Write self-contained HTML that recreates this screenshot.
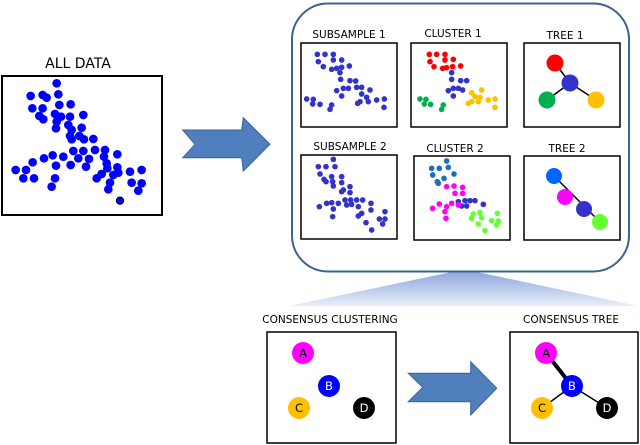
<!DOCTYPE html>
<html><head><meta charset="utf-8"><style>html,body{margin:0;padding:0;background:#fff}svg{display:block}text{font-family:"DejaVu Sans","Liberation Sans",sans-serif}</style></head><body>
<svg width="640" height="445" viewBox="0 0 640 445" xmlns="http://www.w3.org/2000/svg">
<defs><linearGradient id="g" x1="0" y1="0" x2="0" y2="1"><stop offset="0" stop-color="#8ea8dc"/><stop offset="1" stop-color="#e8eef9"/></linearGradient></defs>
<rect width="640" height="445" fill="#fff"/>
<polygon points="452,272 477,272 638,306 289,306" fill="url(#g)"/>
<rect x="292" y="3.5" width="337" height="268" rx="36" fill="#fff" stroke="#3d6190" stroke-width="2"/>
<text x="78" y="68" font-size="14" text-anchor="middle">ALL DATA</text>
<rect x="2" y="76" width="160" height="139" fill="#fff" stroke="#000" stroke-width="2"/>
<g transform="translate(0,50) scale(0.3333)" fill="#0000ff">
<circle cx="170" cy="100" r="13"/><circle cx="92" cy="138" r="13"/><circle cx="128" cy="135" r="13"/><circle cx="140" cy="143" r="13"/><circle cx="175" cy="133" r="13"/><circle cx="97" cy="175" r="13"/><circle cx="128" cy="175" r="13"/><circle cx="178" cy="165" r="13"/><circle cx="212" cy="163" r="13"/><circle cx="118" cy="198" r="13"/><circle cx="130" cy="208" r="13"/><circle cx="165" cy="192" r="13"/><circle cx="183" cy="200" r="13"/><circle cx="210" cy="200" r="13"/><circle cx="250" cy="195" r="13"/><circle cx="170" cy="215" r="13"/><circle cx="168" cy="235" r="13"/><circle cx="205" cy="225" r="13"/><circle cx="215" cy="240" r="13"/><circle cx="245" cy="233" r="13"/><circle cx="210" cy="258" r="13"/><circle cx="238" cy="258" r="13"/><circle cx="215" cy="268" r="13"/><circle cx="252" cy="268" r="13"/><circle cx="280" cy="267" r="13"/><circle cx="285" cy="300" r="13"/><circle cx="315" cy="300" r="13"/><circle cx="220" cy="303" r="13"/><circle cx="250" cy="303" r="13"/><circle cx="235" cy="325" r="13"/><circle cx="267" cy="327" r="13"/><circle cx="190" cy="320" r="13"/><circle cx="158" cy="316" r="13"/><circle cx="132" cy="325" r="13"/><circle cx="98" cy="337" r="13"/><circle cx="47" cy="360" r="13"/><circle cx="78" cy="360" r="13"/><circle cx="70" cy="385" r="13"/><circle cx="102" cy="385" r="13"/><circle cx="168" cy="347" r="13"/><circle cx="212" cy="345" r="13"/><circle cx="258" cy="350" r="13"/><circle cx="312" cy="320" r="13"/><circle cx="320" cy="340" r="13"/><circle cx="322" cy="355" r="13"/><circle cx="352" cy="313" r="13"/><circle cx="352" cy="352" r="13"/><circle cx="355" cy="368" r="13"/><circle cx="340" cy="375" r="13"/><circle cx="305" cy="372" r="13"/><circle cx="290" cy="385" r="13"/><circle cx="330" cy="398" r="13"/><circle cx="325" cy="418" r="13"/><circle cx="165" cy="385" r="13"/><circle cx="155" cy="410" r="13"/><circle cx="390" cy="365" r="13"/><circle cx="425" cy="360" r="13"/><circle cx="395" cy="398" r="13"/><circle cx="425" cy="400" r="13"/><circle cx="415" cy="422" r="13"/>
<circle cx="360" cy="452" r="11" stroke="#000" stroke-width="3"/>
</g>
<polygon points="182.7,130 241.7,130 243.3,117.7 270,144.3 243.3,171 241.7,157.7 182.7,157.7 195,144.3" fill="#4f7fbd" stroke="#3a629a" stroke-width="1"/>
<polygon points="408.3,373.3 470.7,373.3 470.7,361.7 496.7,388.3 470.7,415 470.7,401.7 408.3,401.7 422.7,387.3" fill="#4f7fbd" stroke="#3a629a" stroke-width="1"/>
<g font-size="10.5" text-anchor="middle">
<text x="349" y="38">SUBSAMPLE 1</text><text x="453" y="37">CLUSTER 1</text><text x="565" y="39">TREE 1</text>
<text x="350" y="150">SUBSAMPLE 2</text><text x="455" y="152">CLUSTER 2</text><text x="567" y="152">TREE 2</text>
<text x="330" y="323">CONSENSUS CLUSTERING</text><text x="571" y="323">CONSENSUS TREE</text>
</g>
<g fill="#fff" stroke="#000" stroke-width="1.5">
<rect x="301" y="43" width="96" height="84"/><rect x="411" y="43" width="96" height="84"/><rect x="524" y="43" width="96" height="84"/>
<rect x="301" y="155" width="96" height="84"/><rect x="414" y="156" width="96" height="84"/><rect x="524" y="156" width="96" height="84"/>
<rect x="267" y="332" width="129" height="111"/><rect x="510" y="332" width="128" height="111"/>
</g>
<g transform="translate(290,20) scale(0.3333)">
<g fill="#3333cc">
<circle cx="82" cy="103" r="8.5"/><circle cx="105" cy="103" r="8.5"/><circle cx="130" cy="103" r="8.5"/><circle cx="85" cy="125" r="8.5"/><circle cx="100" cy="140" r="8.5"/><circle cx="130" cy="120" r="8.5"/><circle cx="155" cy="120" r="8.5"/><circle cx="125" cy="148" r="8.5"/><circle cx="140" cy="145" r="8.5"/><circle cx="155" cy="142" r="8.5"/><circle cx="178" cy="138" r="8.5"/><circle cx="150" cy="158" r="8.5"/><circle cx="152" cy="178" r="8.5"/><circle cx="180" cy="182" r="8.5"/><circle cx="197" cy="183" r="8.5"/><circle cx="140" cy="212" r="8.5"/><circle cx="160" cy="205" r="8.5"/><circle cx="175" cy="205" r="8.5"/><circle cx="155" cy="228" r="8.5"/><circle cx="200" cy="202" r="8.5"/><circle cx="215" cy="202" r="8.5"/><circle cx="240" cy="210" r="8.5"/><circle cx="215" cy="222" r="8.5"/><circle cx="230" cy="232" r="8.5"/><circle cx="210" cy="245" r="8.5"/><circle cx="203" cy="250" r="8.5"/><circle cx="235" cy="245" r="8.5"/><circle cx="50" cy="237" r="8.5"/><circle cx="70" cy="238" r="8.5"/><circle cx="68" cy="252" r="8.5"/><circle cx="90" cy="253" r="8.5"/><circle cx="125" cy="255" r="8.5"/><circle cx="120" cy="268" r="8.5"/><circle cx="260" cy="240" r="8.5"/><circle cx="283" cy="237" r="8.5"/><circle cx="282" cy="262" r="8.5"/>
<circle cx="485" cy="158" r="8.5"/><circle cx="485" cy="178" r="8.5"/><circle cx="512" cy="182" r="8.5"/><circle cx="530" cy="182" r="8.5"/><circle cx="475" cy="212" r="8.5"/><circle cx="490" cy="205" r="8.5"/><circle cx="505" cy="205" r="8.5"/><circle cx="490" cy="228" r="8.5"/><circle cx="518" cy="210" r="8.5"/>
<circle cx="130" cy="418" r="8.5"/><circle cx="85" cy="440" r="8.5"/><circle cx="108" cy="440" r="8.5"/><circle cx="135" cy="440" r="8.5"/><circle cx="90" cy="462" r="8.5"/><circle cx="102" cy="478" r="8.5"/><circle cx="125" cy="470" r="8.5"/><circle cx="155" cy="470" r="8.5"/><circle cx="108" cy="485" r="8.5"/><circle cx="128" cy="485" r="8.5"/><circle cx="130" cy="498" r="8.5"/><circle cx="155" cy="488" r="8.5"/><circle cx="160" cy="510" r="8.5"/><circle cx="180" cy="500" r="8.5"/><circle cx="155" cy="515" r="8.5"/><circle cx="180" cy="518" r="8.5"/><circle cx="88" cy="560" r="8.5"/><circle cx="110" cy="550" r="8.5"/><circle cx="125" cy="548" r="8.5"/><circle cx="145" cy="550" r="8.5"/><circle cx="130" cy="567" r="8.5"/><circle cx="165" cy="540" r="8.5"/><circle cx="182" cy="540" r="8.5"/><circle cx="200" cy="540" r="8.5"/><circle cx="218" cy="540" r="8.5"/><circle cx="170" cy="555" r="8.5"/><circle cx="185" cy="553" r="8.5"/><circle cx="205" cy="560" r="8.5"/><circle cx="243" cy="550" r="8.5"/><circle cx="243" cy="570" r="8.5"/><circle cx="215" cy="580" r="8.5"/><circle cx="205" cy="588" r="8.5"/><circle cx="228" cy="608" r="8.5"/><circle cx="285" cy="575" r="8.5"/><circle cx="268" cy="597" r="8.5"/><circle cx="285" cy="597" r="8.5"/><circle cx="278" cy="612" r="8.5"/><circle cx="128" cy="590" r="8.5"/><circle cx="245" cy="630" r="8.5"/>
<circle cx="505" cy="545" r="8.5"/><circle cx="525" cy="542" r="8.5"/><circle cx="540" cy="542" r="8.5"/><circle cx="555" cy="542" r="8.5"/><circle cx="515" cy="558" r="8.5"/><circle cx="530" cy="558" r="8.5"/><circle cx="580" cy="553" r="8.5"/>
</g>
<g fill="#ff0000"><circle cx="418" cy="103" r="8.5"/><circle cx="440" cy="103" r="8.5"/><circle cx="465" cy="103" r="8.5"/><circle cx="420" cy="125" r="8.5"/><circle cx="432" cy="140" r="8.5"/><circle cx="465" cy="120" r="8.5"/><circle cx="490" cy="118" r="8.5"/><circle cx="458" cy="145" r="8.5"/><circle cx="470" cy="143" r="8.5"/><circle cx="488" cy="140" r="8.5"/><circle cx="512" cy="138" r="8.5"/></g>
<g fill="#ffc000"><circle cx="545" cy="218" r="8.5"/><circle cx="575" cy="210" r="8.5"/><circle cx="555" cy="230" r="8.5"/><circle cx="570" cy="232" r="8.5"/><circle cx="545" cy="245" r="8.5"/><circle cx="535" cy="250" r="8.5"/><circle cx="565" cy="245" r="8.5"/><circle cx="595" cy="240" r="8.5"/><circle cx="615" cy="237" r="8.5"/><circle cx="615" cy="262" r="8.5"/></g>
<g fill="#00b050"><circle cx="390" cy="237" r="8.5"/><circle cx="408" cy="238" r="8.5"/><circle cx="403" cy="252" r="8.5"/><circle cx="422" cy="253" r="8.5"/><circle cx="460" cy="255" r="8.5"/><circle cx="455" cy="268" r="8.5"/></g>
<g fill="#1f6fbf"><circle cx="470" cy="423" r="8.5"/><circle cx="425" cy="445" r="8.5"/><circle cx="448" cy="445" r="8.5"/><circle cx="475" cy="442" r="8.5"/><circle cx="428" cy="465" r="8.5"/><circle cx="442" cy="485" r="8.5"/><circle cx="462" cy="475" r="8.5"/><circle cx="492" cy="462" r="8.5"/><circle cx="445" cy="490" r="8.5"/></g>
<g fill="#ff00ff"><circle cx="470" cy="500" r="8.5"/><circle cx="492" cy="498" r="8.5"/><circle cx="518" cy="502" r="8.5"/><circle cx="495" cy="520" r="8.5"/><circle cx="518" cy="520" r="8.5"/><circle cx="428" cy="565" r="8.5"/><circle cx="448" cy="552" r="8.5"/><circle cx="470" cy="560" r="8.5"/><circle cx="485" cy="550" r="8.5"/><circle cx="505" cy="555" r="8.5"/><circle cx="465" cy="575" r="8.5"/><circle cx="468" cy="595" r="8.5"/></g>
<g fill="#66ff33"><circle cx="550" cy="582" r="8.5"/><circle cx="570" cy="578" r="8.5"/><circle cx="545" cy="595" r="8.5"/><circle cx="575" cy="593" r="8.5"/><circle cx="605" cy="602" r="8.5"/><circle cx="622" cy="580" r="8.5"/><circle cx="625" cy="603" r="8.5"/><circle cx="565" cy="612" r="8.5"/><circle cx="620" cy="615" r="8.5"/><circle cx="585" cy="632" r="8.5"/></g>
</g>
<g stroke="#000" stroke-width="1.5">
<line x1="555" y1="63" x2="570" y2="83"/><line x1="570" y1="83" x2="547" y2="100"/><line x1="570" y1="83" x2="596" y2="100"/>
<line x1="554" y1="176" x2="600" y2="222"/>
<line x1="546" y1="353" x2="572" y2="386" stroke-width="4"/><line x1="572" y1="386" x2="542" y2="408"/><line x1="572" y1="386" x2="607" y2="408"/>
</g>
<circle cx="555" cy="63" r="8.5" fill="#ff0000"/><circle cx="570" cy="83" r="8.5" fill="#3333cc"/><circle cx="547" cy="100" r="8.5" fill="#00b050"/><circle cx="596" cy="100" r="8.5" fill="#ffc000"/>
<circle cx="554" cy="176" r="8" fill="#0066ff"/><circle cx="565" cy="197" r="8" fill="#ff00ff"/><circle cx="584" cy="209" r="8" fill="#3333cc"/><circle cx="600" cy="222" r="8" fill="#66ff33"/>
<g font-size="11.5" text-anchor="middle" font-family="Liberation Sans, sans-serif">
<circle cx="303" cy="353" r="11" fill="#ff00ff"/><text x="303" y="357">A</text>
<circle cx="329" cy="386" r="11" fill="#0000ff"/><text x="329" y="390" fill="#fff">B</text>
<circle cx="299" cy="408" r="11" fill="#ffc000"/><text x="299" y="412">C</text>
<circle cx="364" cy="408" r="11" fill="#000"/><text x="364" y="412" fill="#fff">D</text>
<circle cx="546" cy="353" r="11" fill="#ff00ff"/><text x="546" y="357">A</text>
<circle cx="572" cy="386" r="11" fill="#0000ff"/><text x="572" y="390" fill="#fff">B</text>
<circle cx="542" cy="408" r="11" fill="#ffc000"/><text x="542" y="412">C</text>
<circle cx="607" cy="408" r="11" fill="#000"/><text x="607" y="412" fill="#fff">D</text>
</g>
</svg>
</body></html>
